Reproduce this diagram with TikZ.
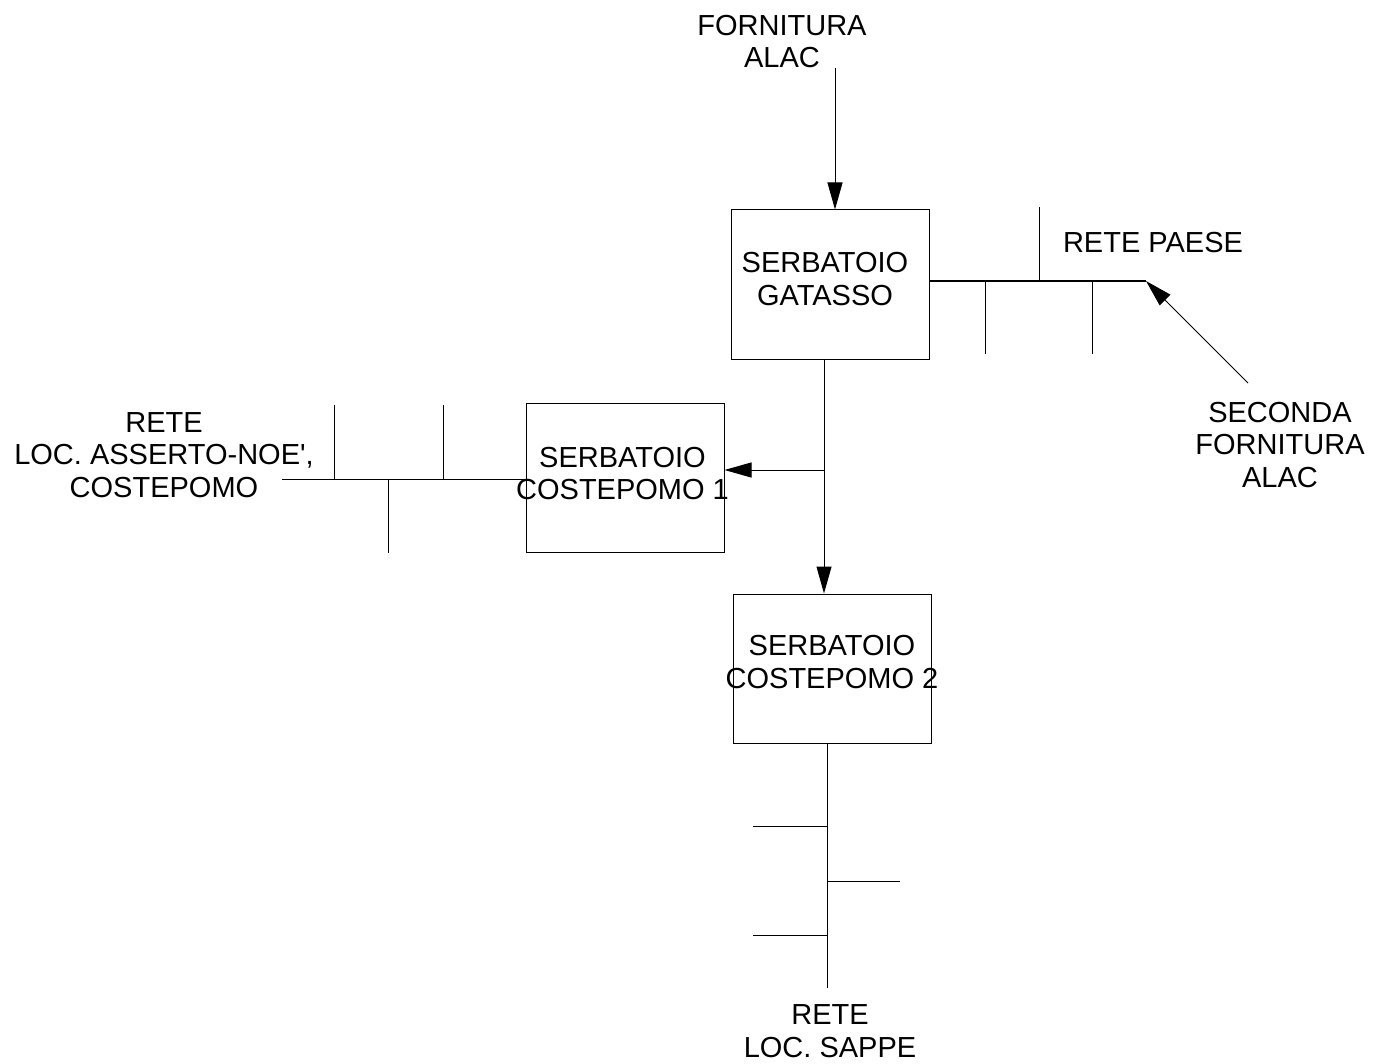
\documentclass[tikz,border=0pt]{standalone}
\usepackage{fontspec}
\setmainfont{Liberation Sans}
\usetikzlibrary{arrows.meta}
\tikzset{%
    tank/.style={draw, minimum width=99pt, minimum height=74.5pt, inner sep=0pt},
    tag/.style={align=center, inner sep=0pt, font=\fontsize{14.5}{16.2}\selectfont},
    feed/.style={-{Triangle[length=13.5pt,width=7.5pt]}},
}

\begin{document}
\begin{tikzpicture}[x=0.5pt, y=-0.5pt, line width=0.5pt, line cap=butt]
    \useasboundingbox (0,0) rectangle (1386,1064);

    % tanks, drawn empty; their texts are set on top
    \node[tank] (gatasso) at (830.5,284.5) {};
    \node[tank] (costepomo1) at (625,477.5) {};
    \node[tank] (costepomo2) at (832.5,668.5) {};

    \node[tag] (gatasso-txt) at (825,279) {SERBATOIO\\GATASSO};
    \node[tag] (costepomo1-txt) at (622.5,473.5) {SERBATOIO\\COSTEPOMO 1};
    \node[tag] (costepomo2-txt) at (832,662) {SERBATOIO\\COSTEPOMO 2};

    \node[tag] (fornitura) at (782,41.5) {FORNITURA\\ALAC};
    \node[tag] (paese) at (1153,243) {RETE PAESE};
    \node[tag] (seconda) at (1280,445) {SECONDA\\FORNITURA\\ALAC};
    \node[tag] (asserto) at (164,455) {RETE\\LOC. ASSERTO-NOE\textquotesingle,\\COSTEPOMO};
    \node[tag] (sappe) at (830,1031) {RETE\\LOC. SAPPE};

    \path (835,68) coordinate (alac-in)
        (824,470) coordinate (split)
        (1146,281) coordinate (paese-end)
        (1248,383) coordinate (seconda-in)
        (282,479) coordinate (asserto-end)
        (827,988) coordinate (sappe-end)
    ;

    % supply lines
    \draw[feed] (alac-in) -- (alac-in |- gatasso.north);
    \draw[feed] (gatasso.south -| split) -- (costepomo2.north -| split);
    \draw[feed] (split) -- (split -| costepomo1.east);
    \draw[feed] (seconda-in) -- (paese-end);

    % networks
    \draw (gatasso.east |- paese-end) -- (paese-end);
    \foreach \x in {985.5,1092.5}
        \draw (\x,281) -- (\x,354);
    \draw (1039,281) -- (1039,207);

    \draw (costepomo1.west |- asserto-end) -- (asserto-end);
    \foreach \x in {334,443}
        \draw (\x,479) -- (\x,405);
    \draw (388,479) -- (388,553);

    \draw (costepomo2.south -| sappe-end) -- (sappe-end);
    \foreach \y in {826,935}
        \draw (827,\y) -- (753,\y);
    \draw (827,881) -- (900,881);
\end{tikzpicture}
\end{document}
